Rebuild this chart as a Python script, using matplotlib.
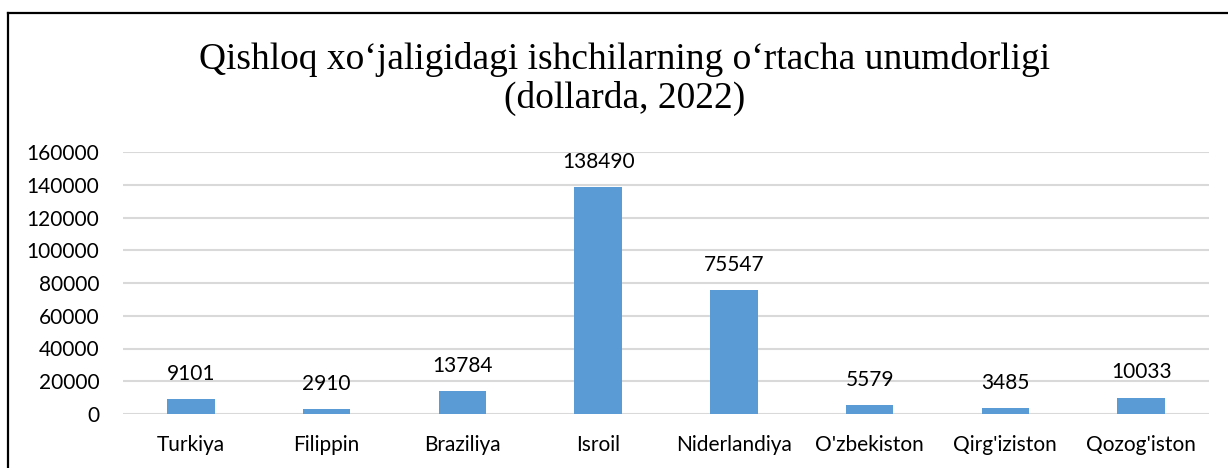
import matplotlib

matplotlib.use("Agg")
import matplotlib.pyplot as plt
from matplotlib.lines import Line2D

# data
countries = ["Turkiya", "Filippin", "Braziliya", "Isroil", "Niderlandiya",
             "O'zbekiston", "Qirg'iziston", "Qozog'iston"]
values = [9101, 2910, 13784, 138490, 75547, 5579, 3485, 10033]
yticks = [0, 20000, 40000, 60000, 80000, 100000, 120000, 140000, 160000]
title = "Qishloq xo\u2018jaligidagi ishchilarning o\u2018rtacha unumdorligi\n(dollarda, 2022)"

W, H = 1228, 468
fig = plt.figure(figsize=(W / 100, H / 100), dpi=100)
ax = fig.add_axes([123 / W, (H - 414) / H, (1209 - 123) / W, (414 - 152) / H])

x = list(range(len(countries)))
bars = ax.bar(x, values, width=0.35, color="#5b9bd5", zorder=3)
for xi, v in zip(x, values):
    ax.annotate(str(v), (xi, v), xytext=(0, 11), textcoords="offset points",
                ha="center", va="bottom", fontsize=15, family="Lato", color="#000000")

ax.set_xlim(-0.5, len(countries) - 0.5)
ax.set_ylim(0, 160000)
ax.set_yticks(yticks)
ax.set_yticklabels([str(t) for t in yticks])
ax.set_xticks(x)
ax.set_xticklabels(countries)
ax.tick_params(axis="y", length=0, pad=17, labelsize=15)
ax.tick_params(axis="x", length=0, pad=15, labelsize=15)
for lab in ax.get_xticklabels() + ax.get_yticklabels():
    lab.set_family("Lato")
ax.grid(axis="y", color="#d9d9d9", linewidth=1.5, zorder=0)
for s in ax.spines.values():
    s.set_visible(False)

fig.text(625 / W, 1 - 79 / H, title, ha="center", va="center",
         fontsize=27, family="Liberation Serif", linespacing=1.15)

# frame: only top and left edges are visible in the picture
fig.add_artist(Line2D([8 / W, 1.0], [1 - 13 / H, 1 - 13 / H], color="black", linewidth=1.6))
fig.add_artist(Line2D([8 / W, 8 / W], [0, 1 - 13 / H], color="black", linewidth=1.6))

fig.savefig("out.png", dpi=100)
